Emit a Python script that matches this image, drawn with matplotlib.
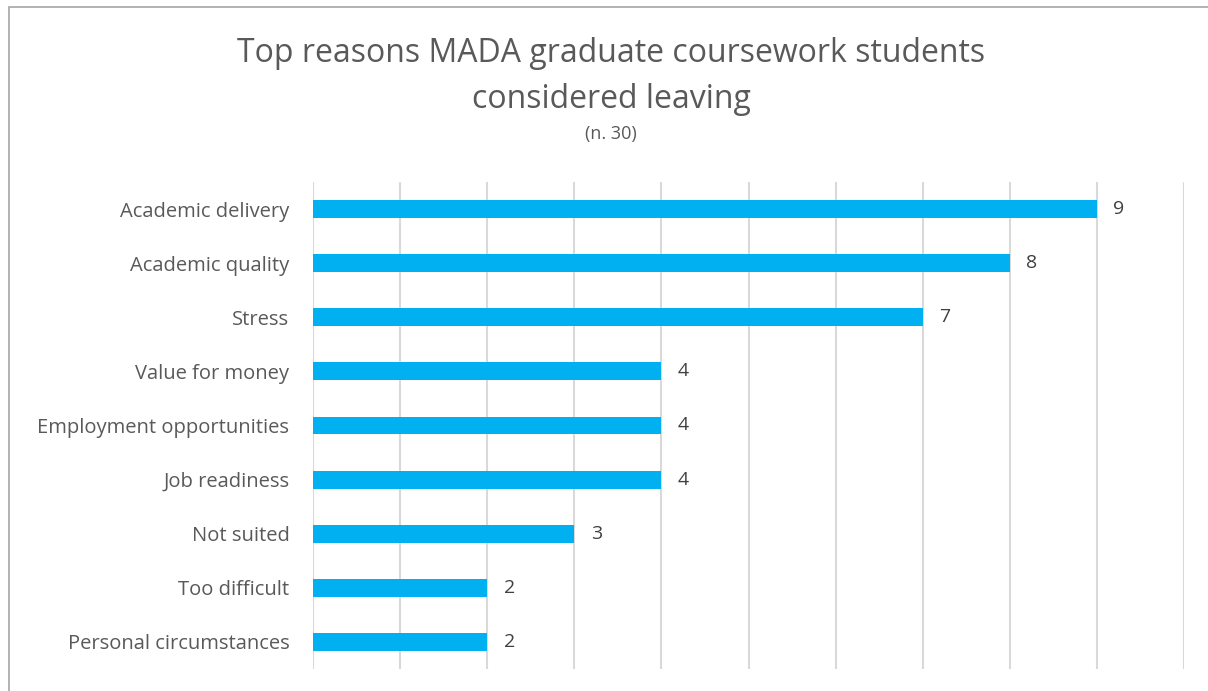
import matplotlib.pyplot as plt
from matplotlib.patches import Rectangle

plt.rcParams['font.family'] = ['Open Sans', 'DejaVu Sans']

# Data
reasons = ['Academic delivery', 'Academic quality', 'Stress', 'Value for money',
           'Employment opportunities', 'Job readiness', 'Not suited',
           'Too difficult', 'Personal circumstances']
counts = [9, 8, 7, 4, 4, 4, 3, 2, 2]

bar_color = '#00B0F0'
grid_color = '#D9D9D9'
label_color = '#595959'

W, H = 1208, 691
fig = plt.figure(figsize=(W / 100, H / 100), dpi=100)

# outer chart frame (right and bottom edges fall outside the image)
fig.patches.append(Rectangle((9 / W, -0.1), 1.2, 1.1 - 7 / H, transform=fig.transFigure,
                             fill=False, edgecolor='#A6A6A6', linewidth=1.2))

ax = fig.add_axes([313 / W, 1 - 669 / H, (1184 - 313) / W, (669 - 182) / H])

y = list(range(len(reasons)))
ax.barh(y, counts, height=0.33, color=bar_color, zorder=3)
for yi, c in zip(y, counts):
    ax.text(c + 0.19, yi, str(c), va='center', ha='left', fontsize=14, color='#404040')

ax.set_xlim(0, 10)
ax.set_ylim(len(reasons) - 0.5, -0.5)
ax.set_xticks(range(11))
ax.set_xticklabels([])
ax.set_yticks(y)
ax.set_yticklabels(reasons, fontsize=14.5, color=label_color)
ax.tick_params(axis='both', length=0)
ax.tick_params(axis='y', pad=17)
ax.grid(axis='x', color=grid_color, linewidth=1.5, zorder=0)
for s in ax.spines.values():
    s.set_visible(False)

fig.text(611 / W, 1 - 53 / H, 'Top reasons MADA graduate coursework students',
         ha='center', va='center', fontsize=23, color=label_color)
fig.text(611 / W, 1 - 99 / H, 'considered leaving',
         ha='center', va='center', fontsize=23, color=label_color)
fig.text(611 / W, 1 - 134 / H, '(n. 30)',
         ha='center', va='center', fontsize=13, color=label_color)

fig.savefig('out.png', dpi=100)
